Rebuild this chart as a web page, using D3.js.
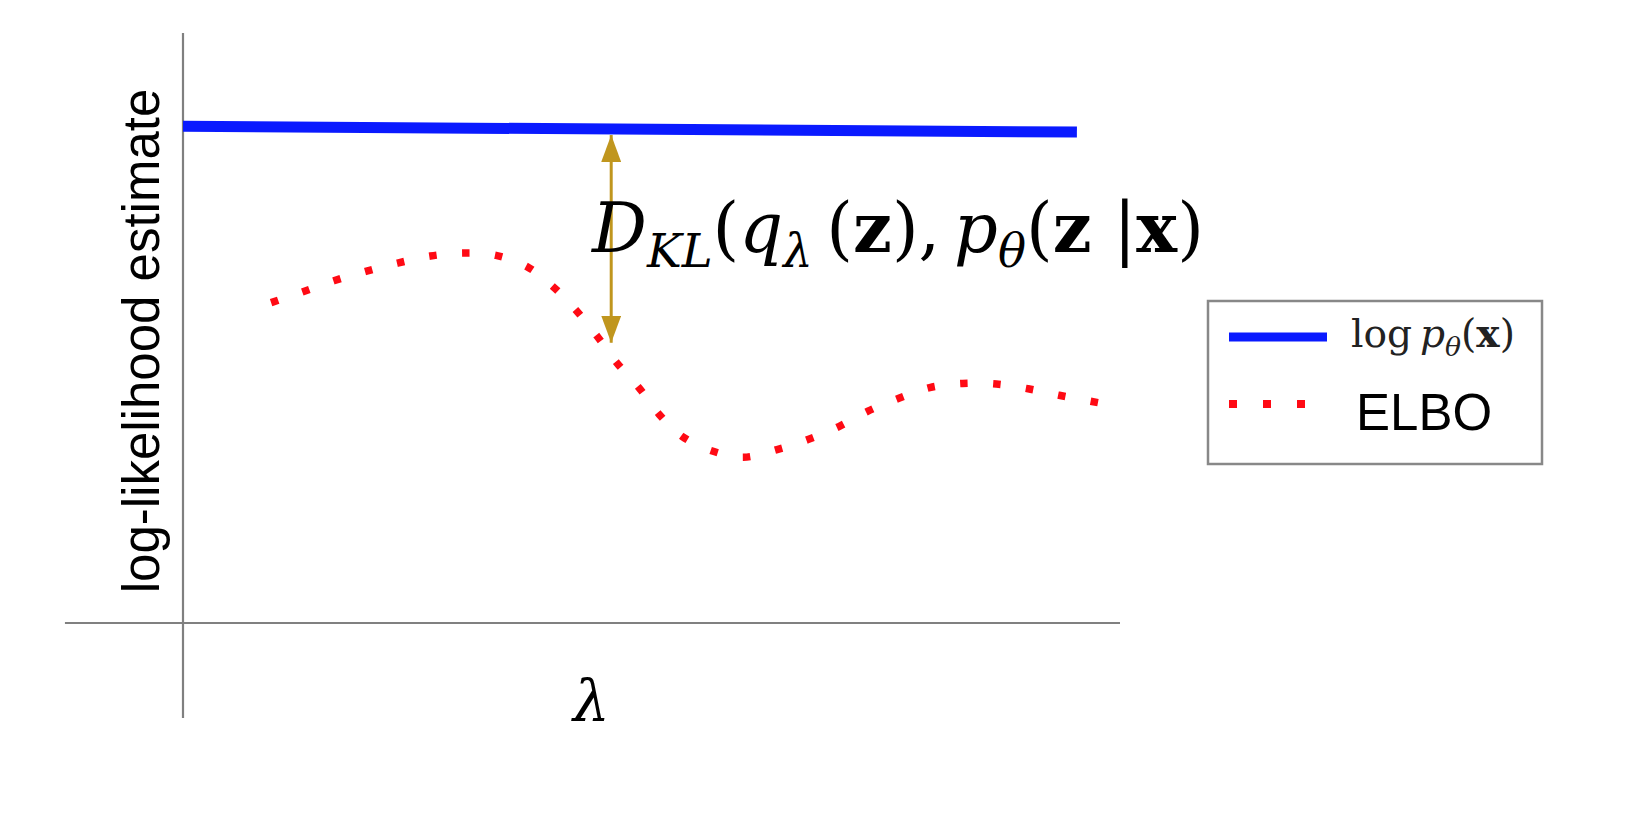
<!DOCTYPE html>
<html>
<head>
<meta charset="utf-8">
<script src="https://cdn.jsdelivr.net/npm/d3@7"></script>
<style>
  body { margin: 0; background: #fff; }
  svg { display: block; }
</style>
</head>
<body>
<svg id="chart"></svg>
<script>
// lambda positions and ELBO values (arbitrary units)
var elboLambda = [0.94, 1.27, 1.61, 1.95, 2.29, 2.64, 2.99, 3.34, 3.67, 3.95, 4.19, 4.42, 4.63, 4.88,
                  5.08, 5.33, 5.64, 5.98, 6.34, 6.67, 7.00, 7.31, 7.64, 7.97, 8.32, 8.68, 9.02, 9.35, 9.78];
var elboValues = [5.43, 5.61, 5.80, 5.96, 6.10, 6.22, 6.27, 6.23, 6.04, 5.70, 5.31, 4.86, 4.41, 3.96,
                  3.54, 3.16, 2.92, 2.81, 2.94, 3.11, 3.33, 3.59, 3.81, 3.99, 4.06, 4.05, 3.97, 3.86, 3.73];
// log p(x) is (almost) flat
var logpLambda = [0, 9.54];
var logpValues = [8.42, 8.32];
// KL gap arrow at this lambda
var gapLambda = 4.57;
var gapTop = 8.27, gapBottom = 4.75;

var W = 1637, H = 829;
var svg = d3.select("#chart").attr("width", W).attr("height", H);
svg.append("rect").attr("width", W).attr("height", H).attr("fill", "#fff");

var x = d3.scaleLinear().domain([0, 10]).range([183, 1120]);
var y = d3.scaleLinear().domain([0, 10]).range([623, 33]);

var axisColor = "#808080";
// bare axes, no ticks
svg.append("line")
    .attr("x1", x(0)).attr("x2", x(0))
    .attr("y1", y(-1.61)).attr("y2", y(10))
    .attr("stroke", axisColor).attr("stroke-width", 2.2);
svg.append("line")
    .attr("x1", x(-1.26)).attr("x2", x(10))
    .attr("y1", y(0)).attr("y2", y(0))
    .attr("stroke", axisColor).attr("stroke-width", 2.2);

var line = d3.line()
    .x(function(d) { return x(d[0]); })
    .y(function(d) { return y(d[1]); });

svg.append("path")
    .datum(d3.zip(logpLambda, logpValues))
    .attr("d", line)
    .attr("fill", "none")
    .attr("stroke", "#0a1aff")
    .attr("stroke-width", 11);

svg.append("path")
    .datum(d3.zip(elboLambda, elboValues))
    .attr("d", line.curve(d3.curveCatmullRom))
    .attr("fill", "none")
    .attr("stroke", "#ff0a14")
    .attr("stroke-width", 7.5)
    .attr("stroke-dasharray", "7.5,25.5");

// double arrow for the gap
var defs = svg.append("defs");
var gold = "#c0961e";
defs.append("marker")
    .attr("id", "head")
    .attr("markerUnits", "userSpaceOnUse")
    .attr("viewBox", "0 0 27 20")
    .attr("refX", 27).attr("refY", 10)
    .attr("markerWidth", 27).attr("markerHeight", 20)
    .attr("orient", "auto-start-reverse")
    .append("path")
    .attr("d", "M0,0 L27,10 L0,20 Z")
    .attr("fill", gold);

svg.append("line")
    .attr("x1", x(gapLambda)).attr("x2", x(gapLambda))
    .attr("y1", y(gapTop)).attr("y2", y(gapBottom))
    .attr("stroke", gold).attr("stroke-width", 3)
    .attr("marker-start", "url(#head)")
    .attr("marker-end", "url(#head)");

var serif = "'DejaVu Serif', 'Liberation Serif', serif";

// builds a math-ish label from parts, then resizes it to the wanted width
function mathText(px, py, parts, size, wanted) {
  var t = svg.append("text")
      .attr("x", px).attr("y", py)
      .attr("font-family", serif)
      .attr("fill", "#000");
  function build(s) {
    t.selectAll("*").remove();
    t.attr("font-size", s);
    var prevSub = false;
    parts.forEach(function(p) {
      var ts = t.append("tspan")
          .attr("font-style", p.s || "normal")
          .attr("font-weight", p.w || "normal")
          .text(p.t);
      if (p.sub) ts.attr("font-size", s * 0.68);
      if (p.sub && !prevSub) ts.attr("dy", s * 0.22);
      if (!p.sub && prevSub) ts.attr("dy", -s * 0.22);
      prevSub = !!p.sub;
    });
  }
  build(size);
  var w = t.node().getComputedTextLength();
  build(size * wanted / w);
  return t;
}

mathText(592, 252, [
  {t: "D", s: "italic"},
  {t: "KL", s: "italic", sub: true},
  {t: "("},
  {t: "q", s: "italic"},
  {t: "\u03bb", s: "italic", sub: true},
  {t: "\u2009("},
  {t: "z", w: "bold"},
  {t: "),\u2009"},
  {t: "p", s: "italic"},
  {t: "\u03b8", s: "italic", sub: true},
  {t: "("},
  {t: "z", w: "bold"},
  {t: " |"},
  {t: "x", w: "bold"},
  {t: ")"}
], 60, 612);

// axis titles
svg.append("text")
    .attr("transform", "translate(159,341) rotate(-90)")
    .attr("text-anchor", "middle")
    .attr("font-family", "'Liberation Sans', Arial, sans-serif")
    .attr("font-size", 51)
    .attr("fill", "#000")
    .text("log-likelihood estimate");

svg.append("text")
    .attr("x", 573).attr("y", 721)
    .attr("font-family", serif)
    .attr("font-style", "italic")
    .attr("font-size", 58)
    .attr("fill", "#000")
    .text("\u03bb");

// legend
var legend = svg.append("g");
legend.append("rect")
    .attr("x", 1208).attr("y", 301)
    .attr("width", 334).attr("height", 163)
    .attr("fill", "#fff")
    .attr("stroke", "#888").attr("stroke-width", 2.5);
legend.append("line")
    .attr("x1", 1229).attr("x2", 1327)
    .attr("y1", 337).attr("y2", 337)
    .attr("stroke", "#0a1aff").attr("stroke-width", 9);
legend.append("line")
    .attr("x1", 1229).attr("x2", 1310)
    .attr("y1", 404).attr("y2", 404)
    .attr("stroke", "#ff0a14").attr("stroke-width", 8)
    .attr("stroke-dasharray", "8,26");

mathText(1351, 347, [
  {t: "log\u2009"},
  {t: "p", s: "italic"},
  {t: "\u03b8", s: "italic", sub: true},
  {t: "("},
  {t: "x", w: "bold"},
  {t: ")"}
], 34, 164).attr("fill", "#222");

legend.append("text")
    .attr("x", 1356).attr("y", 430)
    .attr("font-family", "'Liberation Sans', Arial, sans-serif")
    .attr("font-size", 51)
    .attr("fill", "#000")
    .text("ELBO");
</script>
</body>
</html>
